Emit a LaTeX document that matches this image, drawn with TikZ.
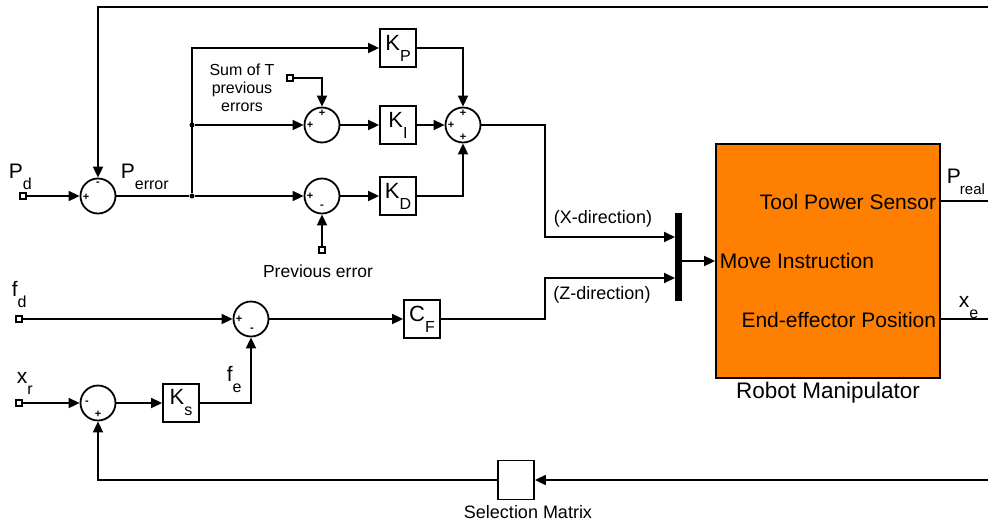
\documentclass[tikz,border=0pt]{standalone}
\usepackage{fontspec}
\setmainfont{Liberation Sans}
\usetikzlibrary{arrows.meta,calc}
\definecolor{robotorange}{RGB}{255,128,0}
\newcommand{\mlbl}[2]{{\fontsize{21}{21}\selectfont #1}\raisebox{-11pt}{\fontsize{16}{16}\selectfont #2}}
\newcommand{\rlbl}[2]{{\fontsize{21}{21}\selectfont #1}\kern-1pt\raisebox{-11pt}{\fontsize{15}{15}\selectfont #2}}
\newcommand{\klbl}[2]{{\fontsize{22}{22}\selectfont #1}\raisebox{-11pt}{\fontsize{16}{16}\selectfont #2}}
\begin{document}
\begin{tikzpicture}[x=1pt,y=-1pt,
 line width=1.8pt,
 arr/.style={-{Triangle[length=11pt,width=10pt]}},
 sumc/.style={circle,draw,line width=1.8pt,minimum size=35pt,inner sep=0},
 gain/.style={rectangle,draw,line width=1.8pt,minimum width=36pt,minimum height=38pt,inner sep=0},
 inport/.style={rectangle,draw,fill=white,line width=1.4pt,minimum size=6pt,inner sep=0},
 sgn/.style={inner sep=0,font=\fontsize{11}{11}\selectfont\bfseries},
 lbl/.style={inner sep=0,anchor=base west},
 txt/.style={inner sep=0},
 jdot/.style={circle,fill,inner sep=0,minimum size=5pt}]
\useasboundingbox (0,0) rectangle (988,523);

% summing junctions
\node[sumc] (sumA) at (98,196) {};
\node[sumc] (sumI) at (322,125) {};
\node[sumc] (sumD) at (322,196) {};
\node[sumc] (sumF) at (463,125) {};
\node[sumc] (sumX) at (98,403) {};
\node[sumc] (sumZ) at (251,319) {};

% signs
\node[sgn] (sA1) at (98,184) {-};
\node[sgn] (sA2) at (86,197) {+};
\node[sgn] (sI1) at (322,113) {+};
\node[sgn] (sI2) at (310,125) {+};
\node[sgn] (sD1) at (310,196) {+};
\node[sgn] (sD2) at (322,207) {-};
\node[sgn] (sF1) at (463,113) {+};
\node[sgn] (sF2) at (451,125) {+};
\node[sgn] (sF3) at (463,137) {+};
\node[sgn] (sX1) at (87,403) {-};
\node[sgn] (sX2) at (98,414) {+};
\node[sgn] (sZ1) at (239,319) {+};
\node[sgn] (sZ2) at (252,330) {-};

% gains
\node[gain] (KP) at (398,48) {\klbl{K}{P}};
\node[gain] (KI) at (398,125) {\klbl{K}{I}};
\node[gain] (KD) at (398,196) {\klbl{K}{D}};
\node[gain] (Ks) at (181,403) {\klbl{K}{s}};
\node[gain] (CF) at (422,319) {\klbl{C}{F}};
\node[gain,minimum height=39pt] (SM) at (516,480) {};

% mux and robot
\node[rectangle,fill=black,inner sep=0,minimum width=7pt,minimum height=88pt] (mux) at (678.5,257) {};
\node[rectangle,draw,fill=robotorange,line width=1.8pt,minimum width=224pt,minimum height=234pt,inner sep=0] (Robot) at (828,261) {};

% ports
\node[inport] (pd) at (23,196) {};
\node[inport] (fd) at (19,319) {};
\node[inport] (xr) at (19,403) {};
\node[inport] (psum) at (290,78) {};
\node[inport] (pprev) at (322,250) {};

% junctions and free ends
\node[jdot] (j1) at (192,196) {};
\node[jdot] (j2) at (192,125) {};
\coordinate (xin) at (675,237);
\coordinate (zin) at (675,278);
\coordinate (muxo) at (682,261);
\coordinate (topr) at (988,7);
\coordinate (po) at (940,201);
\coordinate (pe) at (988,201);
\coordinate (xo) at (940,319);
\coordinate (xe) at (988,319);
\coordinate (botr) at (988,480);

% connectors
\draw[arr] (pd) -- (sumA);
\draw (sumA) -- (j1);
\draw[arr] (j1) -- (sumD);
\draw[arr] (j1) |- (KP);
\draw[arr] (j2) -- (sumI);
\draw[arr] (psum) -| (sumI);
\draw[arr] (pprev) -- (sumD);
\draw[arr] (sumI) -- (KI);
\draw[arr] (sumD) -- (KD);
\draw[arr] (KI) -- (sumF);
\draw[arr] (KP) -| (sumF);
\draw[arr] (KD) -| (sumF);
\draw[arr] (sumF) -| (545,237) -- (xin);
\draw[arr] (CF) -| (545,278) -- (zin);
\draw[arr] (muxo) -- (Robot.west);
\draw[arr] (topr) -| (sumA);
\draw (po) -- (pe);
\draw (xo) -- (xe);
\draw[arr] (botr) -- (SM);
\draw[arr] (SM) -| (sumX);
\draw[arr] (fd) -- (sumZ);
\draw[arr] (xr) -- (sumX);
\draw[arr] (sumX) -- (Ks);
\draw[arr] (Ks) -| (sumZ);
\draw[arr] (sumZ) -- (CF);

% labels
\node[lbl] (lPd) at (8,178) {\mlbl{P}{d}};
\node[lbl] (lPe) at (120,178) {\mlbl{P}{error}};
\node[lbl] (lfd) at (11,296) {\mlbl{f}{d}};
\node[lbl] (lxr) at (16,383) {\mlbl{x}{r}};
\node[lbl] (lfe) at (226,381) {\mlbl{f}{e}};
\node[lbl] (lPr) at (946,183) {\rlbl{P}{real}};
\node[lbl] (lxe) at (958,307) {\mlbl{x}{e}};

\node[txt,align=center,font=\fontsize{16}{18}\selectfont] (tsum) at (242,88) {Sum of T\\previous\\errors};
\node[txt,font=\fontsize{17.5}{17.5}\selectfont] (tprev) at (318,271) {Previous error};
\node[txt,font=\fontsize{18}{18}\selectfont] (tX) at (603,219) {(X-direction)};
\node[txt,font=\fontsize{18}{18}\selectfont] (tZ) at (602,295) {(Z-direction)};
\node[txt,font=\fontsize{18}{18}\selectfont] (tSM) at (528,512) {Selection Matrix};
\node[txt,font=\fontsize{22.5}{22.5}\selectfont] (tRM) at (828,393) {Robot Manipulator};
\node[txt,anchor=east,font=\fontsize{21}{21}\selectfont] (tTPS) at (937,202) {Tool Power Sensor};
\node[txt,anchor=west,font=\fontsize{21}{21}\selectfont] (tMI) at (719,261) {Move Instruction};
\node[txt,anchor=east,font=\fontsize{21}{21}\selectfont] (tEEP) at (937,320) {End-effector Position};
\end{tikzpicture}
\end{document}
